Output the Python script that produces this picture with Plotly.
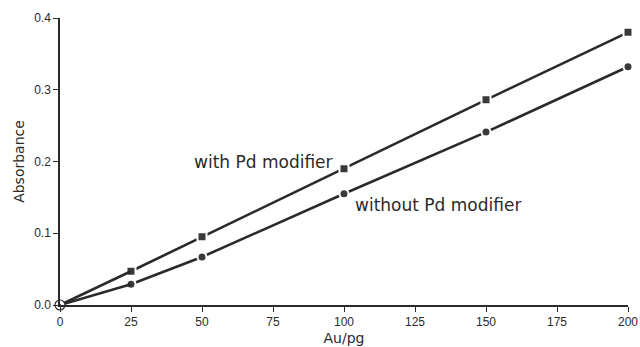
import plotly.graph_objects as go

au_pg = [0, 25, 50, 100, 150, 200]
with_pd = [0.0, 0.047, 0.095, 0.19, 0.286, 0.38]
without_pd = [0.0, 0.029, 0.067, 0.155, 0.241, 0.332]

ink = "#2a2a2a"
font = "Liberation Sans, Arial, sans-serif"
label_font = "DejaVu Sans, sans-serif"

fig = go.Figure()
fig.add_trace(go.Scatter(
    x=au_pg[1:], y=with_pd[1:], mode="lines+markers",
    line=dict(color=ink, width=2.6),
    marker=dict(symbol="square", size=9, color="#3a3a3a", line=dict(color="white", width=2)),
    cliponaxis=False, showlegend=False))
fig.add_trace(go.Scatter(
    x=au_pg[1:], y=without_pd[1:], mode="lines+markers",
    line=dict(color=ink, width=2.6),
    marker=dict(symbol="circle", size=9, color="#3a3a3a", line=dict(color="white", width=2)),
    cliponaxis=False, showlegend=False))
# lines from origin
fig.add_trace(go.Scatter(x=au_pg[:2], y=with_pd[:2], mode="lines",
                         line=dict(color=ink, width=2.6), showlegend=False, cliponaxis=False))
fig.add_trace(go.Scatter(x=au_pg[:2], y=without_pd[:2], mode="lines",
                         line=dict(color=ink, width=2.6), showlegend=False, cliponaxis=False))
# origin marker
fig.add_trace(go.Scatter(x=[au_pg[0]], y=[with_pd[0]], mode="markers",
                         marker=dict(symbol="circle-dot", size=10, color="white",
                                     line=dict(color=ink, width=1.2)),
                         cliponaxis=False, showlegend=False))

fig.add_annotation(x=97, y=0.2, text="with Pd modifier", showarrow=False,
                   xanchor="right", yanchor="middle",
                   font=dict(family=label_font, size=17, color=ink))
fig.add_annotation(x=103, y=0.139, text="without Pd modifier", showarrow=False,
                   xanchor="left", yanchor="middle",
                   font=dict(family=label_font, size=17, color=ink))

fig.update_layout(
    width=640, height=347,
    margin=dict(l=60, r=12, t=18, b=42),
    paper_bgcolor="white", plot_bgcolor="white",
    font=dict(family=font, size=12, color=ink),
)
fig.update_xaxes(range=[0, 200], tickvals=[0, 25, 50, 75, 100, 125, 150, 175, 200],
                 showgrid=False, zeroline=False, showline=True, linecolor=ink, linewidth=1.5,
                 ticks="outside", ticklen=5, tickcolor=ink, tickwidth=1.2, automargin=False,
                 title=dict(text="Au/pg", standoff=5, font=dict(family=label_font, size=14)))
fig.update_yaxes(range=[0, 0.4], tickvals=[0, 0.1, 0.2, 0.3, 0.4],
                 ticktext=["0.0", "0.1", "0.2", "0.3", "0.4"],
                 showgrid=False, zeroline=False, showline=True, linecolor=ink, linewidth=1.5,
                 ticks="outside", ticklen=5, tickcolor=ink, tickwidth=1.2, automargin=False,
                 title=dict(text="Absorbance", standoff=6, font=dict(family=label_font, size=14)))

fig.write_html("out.html")
